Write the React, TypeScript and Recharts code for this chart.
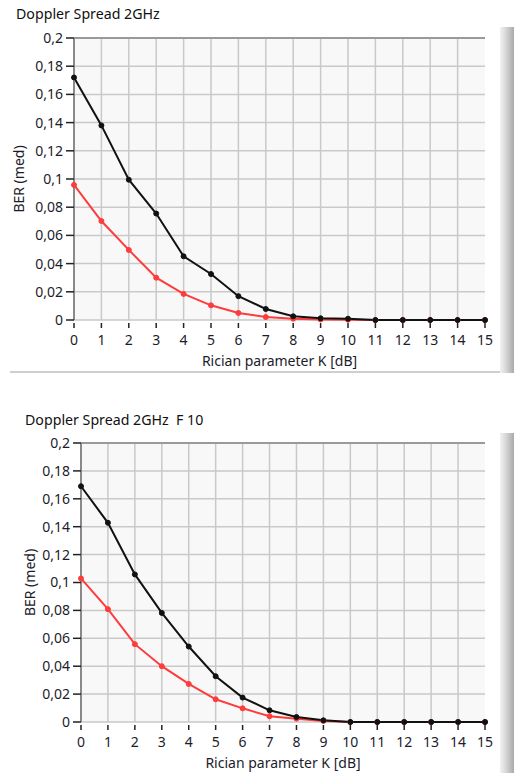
import React from 'react';
import { LineChart, Line, XAxis, YAxis, CartesianGrid, ReferenceLine } from 'recharts';

const kValues = [0, 1, 2, 3, 4, 5, 6, 7, 8, 9, 10, 11, 12, 13, 14, 15];
const xTicks = [0, 1, 2, 3, 4, 5, 6, 7, 8, 9, 10, 11, 12, 13, 14, 15];
const yTicks = [0, 0.02, 0.04, 0.06, 0.08, 0.1, 0.12, 0.14, 0.16, 0.18, 0.2];

const title1 = 'Doppler Spread 2GHz';
const title2 = 'Doppler Spread 2GHz  F 10';
const xLabel = 'Rician parameter K [dB]';
const yLabel = 'BER (med)';

const chart1Black = [0.172, 0.138, 0.0995, 0.0755, 0.0452, 0.0326, 0.0169, 0.0078, 0.0026, 0.0012, 0.0009, 0, 0, 0, 0, 0];
const chart1Red = [0.0958, 0.0702, 0.0497, 0.03, 0.0185, 0.0104, 0.005, 0.0021, 0.0009, 0.0004, 0.0002, 0, 0, 0, 0, 0];
const chart2Black = [0.169, 0.1428, 0.1058, 0.0782, 0.0541, 0.0328, 0.0175, 0.0084, 0.0036, 0.0012, 0, 0, 0, 0, 0, 0];
const chart2Red = [0.1029, 0.0809, 0.0558, 0.04, 0.0273, 0.0163, 0.0098, 0.0041, 0.0024, 0.0008, 0, 0, 0, 0, 0, 0];

const FONT = '"Noto Sans", "Open Sans", sans-serif';
const TEXT = '#1c1c2a';
const FS = 14;
const TITLE_FS = 14.2;

const fmtY = (v: number) => (v === 0 ? '0' : String(+v.toFixed(2)).replace('.', ','));

const XTick = (props: any) => {
  const { x, y, payload } = props;
  return (
    <g>
      <line x1={x} x2={x} y1={y + 3} y2={y + 8} stroke="#222" strokeWidth={1.5} />
      <text x={x} y={y + 25} textAnchor="middle" fontSize={FS} fontFamily={FONT} fill={TEXT}>
        {payload.value}
      </text>
    </g>
  );
};

type PanelProps = {
  top: number;
  height: number;
  title: string;
  titleLeft: number;
  titleTop: number;
  black: number[];
  red: number[];
  marginTop: number;
  yAxisWidth: number;
  plotBottom: number;
  yLabelX: number;
  barTop: number;
  bottomLine: number | null;
};

const Panel = (p: PanelProps) => {
  const data = kValues.map((k, i) => ({ k, black: p.black[i], red: p.red[i] }));
  const width = 514;
  const xAxisH = p.height - p.plotBottom;
  const vGen = ({ offset }: any) =>
    xTicks.slice(1, -1).map((t) => offset.left + (offset.width * t) / xTicks[xTicks.length - 1]);
  return (
    <div style={{ position: 'absolute', left: 0, top: p.top, width, height: p.height }}>
      <div
        style={{
          position: 'absolute',
          left: p.titleLeft,
          top: p.titleTop,
          fontFamily: FONT,
          fontSize: TITLE_FS,
          lineHeight: '22px',
          color: '#111',
          whiteSpace: 'pre',
        }}
      >
        {p.title}
      </div>
      <div
        style={{
          position: 'absolute',
          left: 500,
          top: p.barTop,
          width: 14,
          height: p.height - p.barTop - (p.bottomLine === null ? 0 : p.height - p.bottomLine - 2),
          background: 'linear-gradient(to right, #f2f2f2 0%, #d8d8d8 40%, #a9a9a9 100%)',
        }}
      />
      {p.bottomLine !== null && (
        <div
          style={{
            position: 'absolute',
            left: 10,
            top: p.bottomLine,
            width: 490,
            height: 2,
            background: '#cfcfcf',
          }}
        />
      )}
      <div style={{ position: 'absolute', left: 0, top: 0 }}>
        <LineChart
          width={width}
          height={p.height}
          data={data}
          margin={{ top: p.marginTop, right: 29, left: 0, bottom: 0 }}
        >
          <CartesianGrid
            stroke="#c9c9c9"
            strokeWidth={1.5}
            fill="#f8f8f8"
            verticalCoordinatesGenerator={vGen}
          />
          <ReferenceLine y={0.2} stroke="#9a9a9a" strokeWidth={2} />
          <XAxis
            dataKey="k"
            type="number"
            domain={[0, 15]}
            ticks={xTicks}
            interval={0}
            height={xAxisH}
            axisLine={false}
            tickLine={false}
            tickSize={0}
            tickMargin={0}
            tick={<XTick />}
            label={{
              value: xLabel,
              content: (lp: any) => {
                const vb = lp.viewBox;
                return (
                  <text
                    x={vb.x + vb.width / 2}
                    y={vb.y + 46}
                    textAnchor="middle"
                    fontSize={FS}
                    fontFamily={FONT}
                    fill={TEXT}
                  >
                    {xLabel}
                  </text>
                );
              },
            }}
          />
          <YAxis
            type="number"
            domain={[0, 0.2]}
            ticks={yTicks}
            interval={0}
            width={p.yAxisWidth}
            tickFormatter={fmtY}
            tickSize={8}
            tickMargin={3}
            axisLine={{ stroke: '#8a8a8a', strokeWidth: 2 }}
            tickLine={{ stroke: '#222', strokeWidth: 1.5 }}
            tick={{ fontSize: FS, fontFamily: FONT, fill: TEXT }}
            label={{
              value: yLabel,
              content: (lp: any) => {
                const vb = lp.viewBox;
                const cy = vb.y + vb.height / 2;
                return (
                  <text
                    x={p.yLabelX}
                    y={cy}
                    transform={`rotate(-90 ${p.yLabelX} ${cy})`}
                    textAnchor="middle"
                    dominantBaseline="central"
                    fontSize={FS}
                    fontFamily={FONT}
                    fill={TEXT}
                  >
                    {yLabel}
                  </text>
                );
              },
            }}
          />
          <Line
            dataKey="red"
            stroke="#ff3b3b"
            strokeWidth={2}
            dot={{ r: 2.5, fill: '#ff3b3b', stroke: '#ff3b3b', strokeWidth: 1 }}
            isAnimationActive={false}
          />
          <Line
            dataKey="black"
            stroke="#111"
            strokeWidth={2}
            dot={{ r: 2.5, fill: '#111', stroke: '#111', strokeWidth: 1 }}
            isAnimationActive={false}
          />
        </LineChart>
      </div>
    </div>
  );
}

export default function App() {
  return (
    <div style={{ position: 'absolute', left: 0, top: 0, width: 514, height: 773, background: '#fff', overflow: 'hidden' }}>
      <Panel
        top={0}
        height={380}
        title={title1}
        titleLeft={16}
        titleTop={3}
        black={chart1Black}
        red={chart1Red}
        marginTop={38}
        yAxisWidth={74}
        plotBottom={320}
        yLabelX={18}
        barTop={27}
        bottomLine={371}
      />
      <Panel
        top={380}
        height={393}
        title={title2}
        titleLeft={25}
        titleTop={29}
        black={chart2Black}
        red={chart2Red}
        marginTop={63}
        yAxisWidth={81}
        plotBottom={342}
        yLabelX={29}
        barTop={53}
        bottomLine={null}
      />
    </div>
  );
}
